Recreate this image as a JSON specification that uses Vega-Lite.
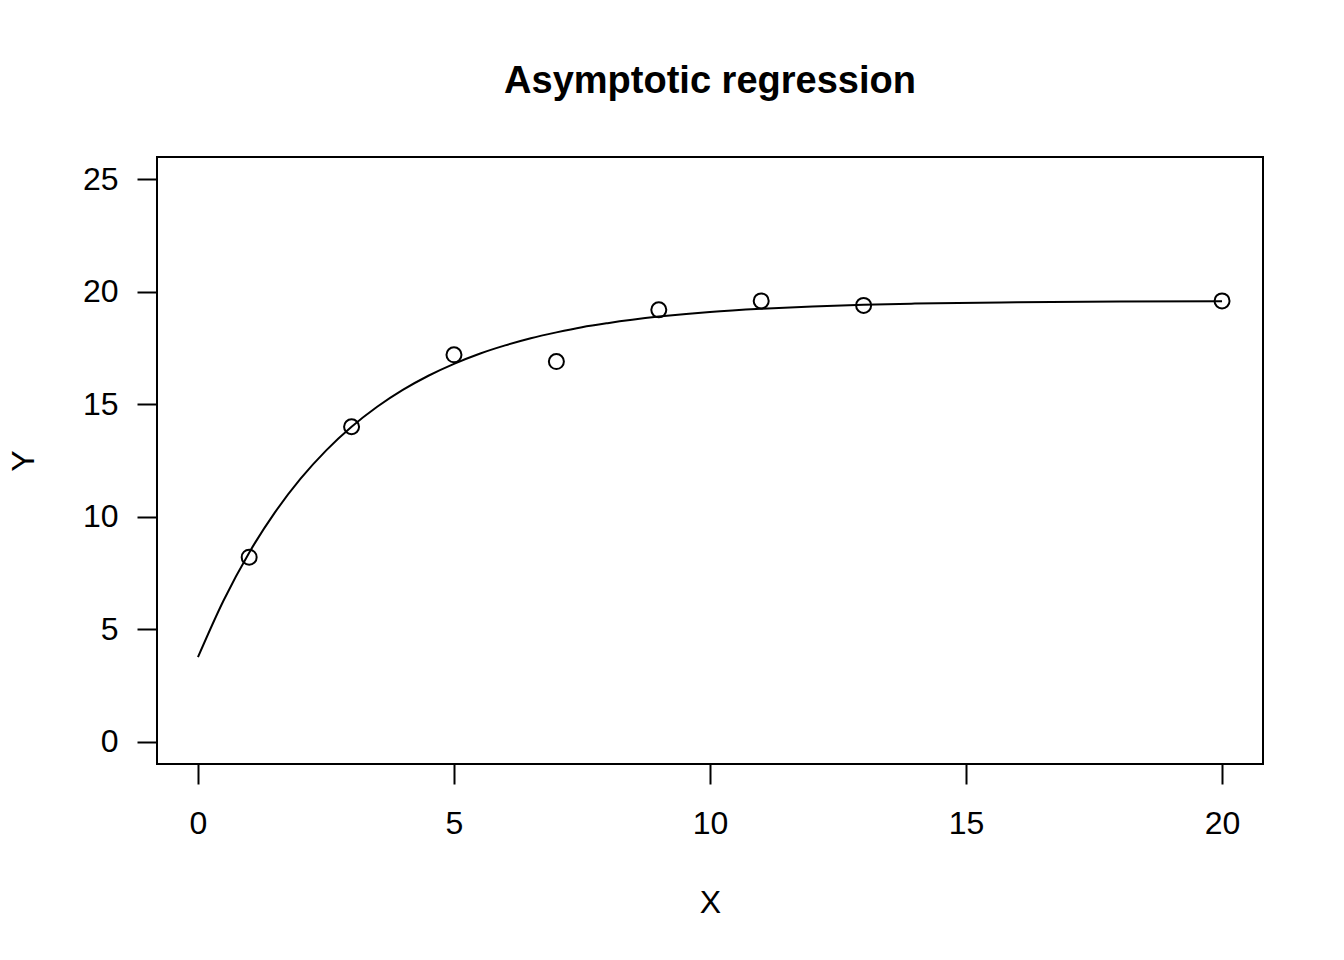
{
  "$schema": "https://vega.github.io/schema/vega-lite/v6.json",
  "width": 1106,
  "height": 607,
  "autosize": {"type": "none"},
  "padding": {"left": 157, "top": 157, "right": 81, "bottom": 196},
  "background": "white",
  "title": {
    "text": "Asymptotic regression",
    "font": "Liberation Sans",
    "fontSize": 38,
    "fontWeight": "bold",
    "color": "black",
    "anchor": "middle",
    "baseline": "alphabetic",
    "offset": 26
  },
  "datasets": {
    "obs": [
      {"X": 1, "Y": 8.2},
      {"X": 3, "Y": 14.0},
      {"X": 5, "Y": 17.2},
      {"X": 7, "Y": 16.9},
      {"X": 9, "Y": 19.2},
      {"X": 11, "Y": 19.6},
      {"X": 13, "Y": 19.4},
      {"X": 20, "Y": 19.6}
    ],
    "fit": [
      {"X": 0, "Y": 3.75},
      {"X": 0.5, "Y": 6.27},
      {"X": 1, "Y": 8.40},
      {"X": 1.5, "Y": 10.18},
      {"X": 2, "Y": 11.68},
      {"X": 2.5, "Y": 12.94},
      {"X": 3, "Y": 14.00},
      {"X": 3.5, "Y": 14.89},
      {"X": 4, "Y": 15.64},
      {"X": 4.5, "Y": 16.27},
      {"X": 5, "Y": 16.80},
      {"X": 5.5, "Y": 17.25},
      {"X": 6, "Y": 17.62},
      {"X": 6.5, "Y": 17.94},
      {"X": 7, "Y": 18.20},
      {"X": 7.5, "Y": 18.43},
      {"X": 8, "Y": 18.61},
      {"X": 9, "Y": 18.90},
      {"X": 10, "Y": 19.11},
      {"X": 11, "Y": 19.25},
      {"X": 12, "Y": 19.35},
      {"X": 13, "Y": 19.43},
      {"X": 14, "Y": 19.48},
      {"X": 16, "Y": 19.54},
      {"X": 18, "Y": 19.57},
      {"X": 20, "Y": 19.58}
    ]
  },
  "layer": [
    {
      "data": {"name": "fit"},
      "mark": {"type": "line", "color": "black", "strokeWidth": 2, "interpolate": "monotone"},
      "encoding": {
        "x": {"field": "X", "type": "quantitative"},
        "y": {"field": "Y", "type": "quantitative"}
      }
    },
    {
      "data": {"name": "obs"},
      "mark": {"type": "point", "shape": "circle", "filled": false, "color": "black", "strokeWidth": 2, "size": 225, "opacity": 1},
      "encoding": {
        "x": {
          "field": "X", "type": "quantitative",
          "scale": {"domain": [-0.8, 20.8], "nice": false, "zero": false},
          "axis": {
            "values": [0, 5, 10, 15, 20],
            "title": "X",
            "titleY": 148,
            "titleBaseline": "alphabetic",
            "labelBaseline": "alphabetic",
            "labelPadding": 49
          }
        },
        "y": {
          "field": "Y", "type": "quantitative",
          "scale": {"domain": [-1, 26], "nice": false, "zero": false},
          "axis": {
            "values": [0, 5, 10, 15, 20, 25],
            "title": "Y",
            "titleX": -124,
            "titleY": 303.5,
            "titleBaseline": "alphabetic",
            "titleAlign": "center",
            "titleAngle": -90,
            "labelAlign": "right",
            "labelBaseline": "middle",
            "labelPadding": 19
          }
        }
      }
    }
  ],
  "config": {
    "view": {"stroke": "black", "strokeWidth": 2},
    "axis": {
      "domain": false,
      "grid": false,
      "ticks": true,
      "tickColor": "black",
      "tickWidth": 2,
      "tickSize": 20,
      "labelFont": "Liberation Sans",
      "labelFontSize": 32,
      "labelColor": "black",
      "labelAngle": 0,
      "titleFont": "Liberation Sans",
      "titleFontSize": 32,
      "titleFontWeight": "normal",
      "titleColor": "black",
      "labelOverlap": false
    }
  }
}
